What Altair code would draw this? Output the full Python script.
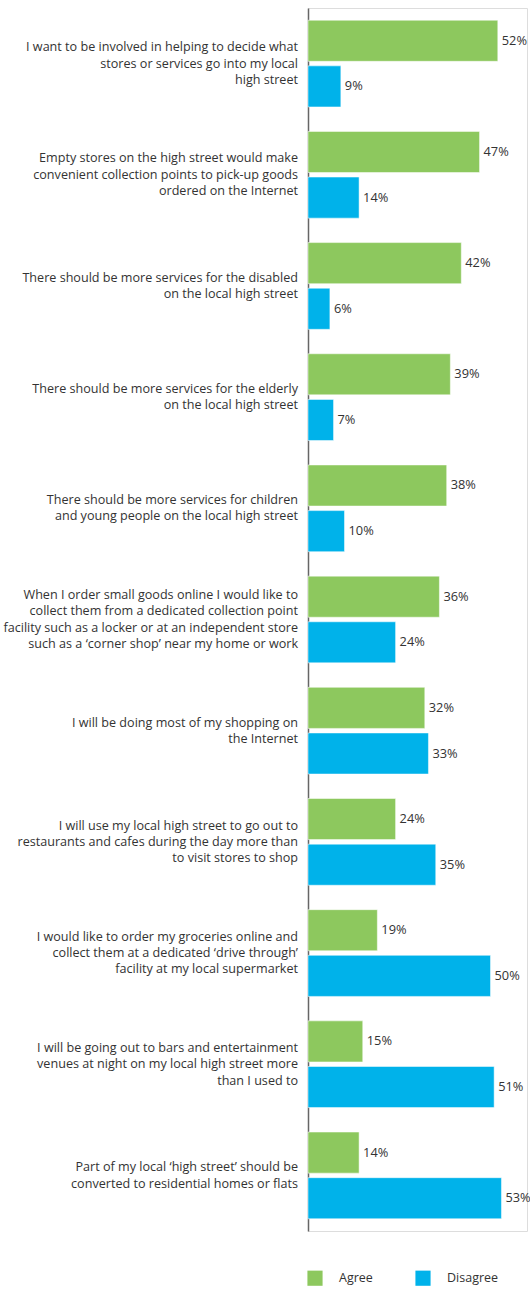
import altair as alt
import pandas as pd

statements = [
    "I want to be involved in helping to decide what|stores or services go into my local|high street",
    "Empty stores on the high street would make|convenient collection points to pick-up goods|ordered on the Internet",
    "There should be more services for the disabled|on the local high street",
    "There should be more services for the elderly|on the local high street",
    "There should be more services for children|and young people on the local high street",
    "When I order small goods online I would like to|collect them from a dedicated collection point|facility such as a locker or at an independent store|such as a \u2018corner shop\u2019 near my home or work",
    "I will be doing most of my shopping on|the Internet",
    "I will use my local high street to go out to|restaurants and cafes during the day more than|to visit stores to shop",
    "I would like to order my groceries online and|collect them at a dedicated \u2018drive through\u2019|facility at my local supermarket",
    "I will be going out to bars and entertainment|venues at night on my local high street more|than I used to",
    "Part of my local \u2018high street\u2019 should be|converted to residential homes or flats",
]
agree = [52, 47, 42, 39, 38, 36, 32, 24, 19, 15, 14]
disagree = [9, 14, 6, 7, 10, 24, 33, 35, 50, 51, 53]
series = ["Agree", "Disagree"]
colors = ["#8DC85E", "#00B2EA"]

rows = []
for s, a, d in zip(statements, agree, disagree):
    rows.append({"statement": s, "series": "Agree", "value": a})
    rows.append({"statement": s, "series": "Disagree", "value": d})
df = pd.DataFrame(rows)
df["label"] = df["value"].astype(str) + "%"

lab_df = pd.DataFrame({"statement": statements})
lab_df["nlines"] = lab_df["statement"].str.count(r"\|") + 1

FONT = "Open Sans"
LH = 16.3

y_enc = alt.Y(
    "statement:N",
    sort=statements,
    scale=alt.Scale(paddingInner=0.22, paddingOuter=0.11),
    axis=alt.Axis(
        title=None,
        ticks=False,
        labels=False,
        domain=True,
        domainColor="#666666",
        domainWidth=1.5,
    ),
)
yoff = alt.YOffset("series:N", sort=series, scale=alt.Scale(paddingInner=0.1, paddingOuter=0))
x_enc = alt.X("value:Q", scale=alt.Scale(domain=[0, 60]), axis=None)

bars = alt.Chart(df).mark_bar(stroke="white", strokeWidth=0.5).encode(
    y=y_enc,
    yOffset=yoff,
    x=x_enc,
    color=alt.Color(
        "series:N",
        sort=series,
        scale=alt.Scale(domain=series, range=colors),
        legend=alt.Legend(
            title=None,
            orient="none",
            direction="horizontal",
            legendX=-1,
            legendY=1262,
            symbolType="square",
            symbolSize=230,
            symbolStrokeWidth=0,
            labelFont=FONT,
            labelFontSize=12.5,
            labelColor="#333333",
            labelOffset=16,
            columnPadding=42,
        ),
    ),
)

texts = alt.Chart(df).mark_text(
    align="left", baseline="middle", dx=4, font=FONT, fontSize=12.8, color="#333333"
).encode(
    y=alt.Y("statement:N", sort=statements),
    yOffset=alt.YOffset("series:N", sort=series),
    x="value:Q",
    text="label:N",
)

label_layers = []
for n in sorted(lab_df["nlines"].unique()):
    label_layers.append(
        alt.Chart(lab_df)
        .transform_filter(alt.datum.nlines == int(n))
        .mark_text(
            align="right",
            baseline="middle",
            lineBreak="|",
            lineHeight=LH,
            dy=-(int(n) - 1) * LH / 2,
            font=FONT,
            fontSize=12.6,
            color="#333333",
        )
        .encode(
            y=alt.Y("statement:N", sort=statements),
            x=alt.value(-10),
            text="statement:N",
        )
    )

chart = (
    alt.layer(bars, texts, *label_layers)
    .properties(
        width=219,
        height=1223,
        autosize=alt.AutoSizeParams(type="none"),
        padding={"left": 308, "top": 8, "right": 3, "bottom": 58},
    )
    .configure_view(stroke=None)
    .configure(background="white")
)

chart.save("out.html", embed_options={"renderer": "svg", "actions": False})
